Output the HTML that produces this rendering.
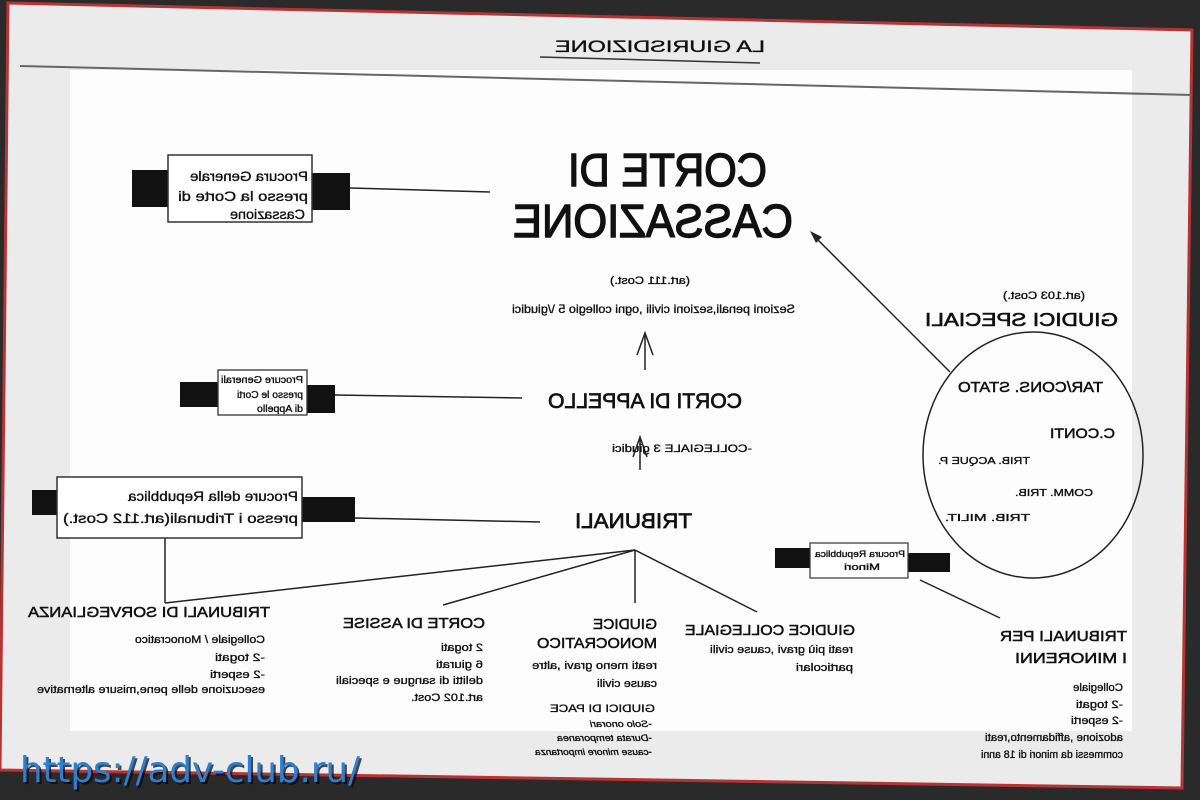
<!DOCTYPE html>
<html><head><meta charset="utf-8"><style>
html,body{margin:0;padding:0;background:#2a2a2a;}
svg{display:block}
text{font-family:"Liberation Sans",sans-serif;fill:#111;stroke:#111;stroke-width:0.35}
</style></head><body>
<svg width="1200" height="800" viewBox="0 0 1200 800" xmlns="http://www.w3.org/2000/svg">
<rect width="1200" height="800" fill="#2a2a2a"/>
<polygon points="8,3 1192,30 1182,788 0,770" fill="#ebebeb" stroke="#b83434" stroke-width="3"/>
<rect x="70" y="70" width="1062" height="661" fill="#fdfdfd"/>
<line x1="20" y1="66" x2="1192" y2="95" stroke="#666" stroke-width="2"/>

<!-- title -->
<text transform="translate(765,52) scale(-1,1)" font-size="17" textLength="210" lengthAdjust="spacingAndGlyphs">LA GIURISDIZIONE</text>
<line x1="540" y1="57" x2="760" y2="63" stroke="#333" stroke-width="1.5"/>

<g fill="none" stroke="#222" stroke-width="1.5">
<line x1="350" y1="188" x2="490" y2="192"/>
<line x1="335" y1="395" x2="522" y2="398"/>
<line x1="355" y1="518" x2="540" y2="522"/>
<line x1="165" y1="538" x2="165" y2="603"/>
<line x1="635" y1="550" x2="165" y2="603"/>
<line x1="635" y1="550" x2="443" y2="605"/>
<line x1="635" y1="550" x2="635" y2="603"/>
<line x1="635" y1="550" x2="757" y2="612"/>
<line x1="645" y1="370" x2="645" y2="333"/>
<path d="M637,355 L645,333 L653,355"/>
<line x1="640" y1="470" x2="640" y2="437"/>
<path d="M633,457 L640,437 L647,457"/>
<line x1="950" y1="372" x2="812" y2="234"/>
<line x1="920" y1="580" x2="1000" y2="618"/>
<ellipse cx="1033" cy="455" rx="110" ry="123"/>
</g>
<path d="M810,231 L822,237 L816,243 Z" fill="#222"/>

<rect x="132" y="170" width="38" height="37" fill="#111"/>
<rect x="310" y="173" width="40" height="37" fill="#111"/>
<rect x="168" y="155" width="144" height="67" fill="#fff" stroke="#333" stroke-width="1.5"/>
<text transform="translate(308,181) scale(-1,1)" font-size="14" textLength="118" lengthAdjust="spacingAndGlyphs">Procura Generale</text>
<text transform="translate(308,201) scale(-1,1)" font-size="14" textLength="130" lengthAdjust="spacingAndGlyphs">presso la Corte di</text>
<text transform="translate(305,219) scale(-1,1)" font-size="14" textLength="75" lengthAdjust="spacingAndGlyphs">Cassazione</text>

<rect x="180" y="382" width="38" height="25" fill="#111"/>
<rect x="305" y="385" width="30" height="28" fill="#111"/>
<rect x="218" y="370" width="89" height="45" fill="#fff" stroke="#333" stroke-width="1.3"/>
<text transform="translate(303,383) scale(-1,1)" font-size="10" textLength="82" lengthAdjust="spacingAndGlyphs">Procure Generali</text>
<text transform="translate(303,398) scale(-1,1)" font-size="10" textLength="66" lengthAdjust="spacingAndGlyphs">presso le Corti</text>
<text transform="translate(303,412) scale(-1,1)" font-size="10" textLength="46" lengthAdjust="spacingAndGlyphs">di Appello</text>

<rect x="32" y="490" width="28" height="25" fill="#111"/>
<rect x="302" y="497" width="53" height="25" fill="#111"/>
<rect x="57" y="477" width="245" height="61" fill="#fff" stroke="#333" stroke-width="1.5"/>
<text transform="translate(298,501) scale(-1,1)" font-size="14" textLength="170" lengthAdjust="spacingAndGlyphs">Procure della Repubblica</text>
<text transform="translate(298,523) scale(-1,1)" font-size="14" textLength="235" lengthAdjust="spacingAndGlyphs">presso i Tribunali(art.112 Cost.)</text>

<rect x="775" y="548" width="37" height="20" fill="#111"/>
<rect x="908" y="553" width="42" height="19" fill="#111"/>
<rect x="810" y="543" width="98" height="35" fill="#fff" stroke="#333" stroke-width="1.2"/>
<text transform="translate(905,557) scale(-1,1)" font-size="9" textLength="90" lengthAdjust="spacingAndGlyphs">Procura Repubblica</text>
<text transform="translate(880,570) scale(-1,1)" font-size="9" textLength="36" lengthAdjust="spacingAndGlyphs">Minori</text>

<text transform="translate(767,186) scale(-1,1)" font-size="46" style="stroke-width:1.4" textLength="199" lengthAdjust="spacingAndGlyphs">CORTE DI</text>
<text transform="translate(793,237) scale(-1,1)" font-size="46" style="stroke-width:1.4" textLength="280" lengthAdjust="spacingAndGlyphs">CASSAZIONE</text>
<text transform="translate(690,284) scale(-1,1)" font-size="11" textLength="80" lengthAdjust="spacingAndGlyphs">(art.111 Cost.)</text>
<text transform="translate(795,313) scale(-1,1)" font-size="12" textLength="283" lengthAdjust="spacingAndGlyphs">Sezioni penali,sezioni civili ,ogni collegio 5 \/giudici</text>
<text transform="translate(742,408) scale(-1,1)" font-size="21" style="stroke-width:0.7" textLength="194" lengthAdjust="spacingAndGlyphs">CORTI DI APPELLO</text>
<text transform="translate(752,452) scale(-1,1)" font-size="11" textLength="140" lengthAdjust="spacingAndGlyphs">-COLLEGIALE 3 giudici</text>
<text transform="translate(692,528) scale(-1,1)" font-size="21" style="stroke-width:0.7" textLength="117" lengthAdjust="spacingAndGlyphs">TRIBUNALI</text>

<text transform="translate(270,617) scale(-1,1)" font-size="15" style="stroke-width:0.5" textLength="242" lengthAdjust="spacingAndGlyphs">TRIBUNALI DI SORVEGLIANZA</text>
<text transform="translate(265,643) scale(-1,1)" font-size="11" textLength="130" lengthAdjust="spacingAndGlyphs">Collegiale / Monocratico</text>
<text transform="translate(265,661) scale(-1,1)" font-size="11" textLength="50" lengthAdjust="spacingAndGlyphs">-2 togati</text>
<text transform="translate(265,678) scale(-1,1)" font-size="11" textLength="55" lengthAdjust="spacingAndGlyphs">-2 esperti</text>
<text transform="translate(265,693) scale(-1,1)" font-size="11" textLength="228" lengthAdjust="spacingAndGlyphs">esecuzione delle pene,misure alternative</text>

<text transform="translate(485,628) scale(-1,1)" font-size="15" style="stroke-width:0.5" textLength="142" lengthAdjust="spacingAndGlyphs">CORTE DI ASSISE</text>
<text transform="translate(483,651) scale(-1,1)" font-size="11" textLength="42" lengthAdjust="spacingAndGlyphs">2 togati</text>
<text transform="translate(483,668) scale(-1,1)" font-size="11" textLength="47" lengthAdjust="spacingAndGlyphs">6 giurati</text>
<text transform="translate(483,684) scale(-1,1)" font-size="11" textLength="147" lengthAdjust="spacingAndGlyphs">delitti di sangue e speciali</text>
<text transform="translate(483,701) scale(-1,1)" font-size="11" textLength="72" lengthAdjust="spacingAndGlyphs">art.102 Cost.</text>

<text transform="translate(657,629) scale(-1,1)" font-size="15" style="stroke-width:0.5" textLength="64" lengthAdjust="spacingAndGlyphs">GIUDICE</text>
<text transform="translate(657,648) scale(-1,1)" font-size="15" style="stroke-width:0.5" textLength="120" lengthAdjust="spacingAndGlyphs">MONOCRATICO</text>
<text transform="translate(657,669) scale(-1,1)" font-size="11" textLength="125" lengthAdjust="spacingAndGlyphs">reati meno gravi ,altre</text>
<text transform="translate(657,687) scale(-1,1)" font-size="11" textLength="60" lengthAdjust="spacingAndGlyphs">cause civili</text>
<text transform="translate(655,712) scale(-1,1)" font-size="11" textLength="105" lengthAdjust="spacingAndGlyphs">GIUDICI DI PACE</text>
<text transform="translate(652,727) scale(-1,1)" font-size="9.5" font-style="italic" textLength="62" lengthAdjust="spacingAndGlyphs">-Solo onorari</text>
<text transform="translate(652,741) scale(-1,1)" font-size="9.5" font-style="italic" textLength="95" lengthAdjust="spacingAndGlyphs">-Durata temporanea</text>
<text transform="translate(652,755) scale(-1,1)" font-size="9.5" font-style="italic" textLength="117" lengthAdjust="spacingAndGlyphs">-cause minore importanza</text>

<text transform="translate(855,635) scale(-1,1)" font-size="15" style="stroke-width:0.5" textLength="170" lengthAdjust="spacingAndGlyphs">GIUDICE COLLEGIALE</text>
<text transform="translate(853,653) scale(-1,1)" font-size="11" textLength="143" lengthAdjust="spacingAndGlyphs">reati più gravi ,cause civili</text>
<text transform="translate(853,671) scale(-1,1)" font-size="11" textLength="57" lengthAdjust="spacingAndGlyphs">particolari</text>

<text transform="translate(1127,641) scale(-1,1)" font-size="15" style="stroke-width:0.5" textLength="127" lengthAdjust="spacingAndGlyphs">TRIBUNALI PER</text>
<text transform="translate(1127,663) scale(-1,1)" font-size="15" style="stroke-width:0.5" textLength="112" lengthAdjust="spacingAndGlyphs">I MINORENNI</text>
<text transform="translate(1123,691) scale(-1,1)" font-size="11" textLength="50" lengthAdjust="spacingAndGlyphs">Collegiale</text>
<text transform="translate(1123,708) scale(-1,1)" font-size="11" textLength="47" lengthAdjust="spacingAndGlyphs">-2 togati</text>
<text transform="translate(1123,724) scale(-1,1)" font-size="11" textLength="52" lengthAdjust="spacingAndGlyphs">-2 esperti</text>
<text transform="translate(1123,741) scale(-1,1)" font-size="11" textLength="138" lengthAdjust="spacingAndGlyphs">adozione ,affidamento,reati</text>
<text transform="translate(1123,758) scale(-1,1)" font-size="11" textLength="142" lengthAdjust="spacingAndGlyphs">commessi da minori di 18 anni</text>

<text transform="translate(1085,299) scale(-1,1)" font-size="11" textLength="82" lengthAdjust="spacingAndGlyphs">(art.103 Cost.)</text>
<text transform="translate(1118,326) scale(-1,1)" font-size="18" style="stroke-width:0.6" textLength="193" lengthAdjust="spacingAndGlyphs">GIUDICI SPECIALI</text>
<text transform="translate(1103,392) scale(-1,1)" font-size="15" style="stroke-width:0.5" textLength="145" lengthAdjust="spacingAndGlyphs">TAR/CONS. STATO</text>
<text transform="translate(1115,438) scale(-1,1)" font-size="14" style="stroke-width:0.5" textLength="65" lengthAdjust="spacingAndGlyphs">C.CONTI</text>
<text transform="translate(1030,464) scale(-1,1)" font-size="10" textLength="92" lengthAdjust="spacingAndGlyphs">TRIB. ACQUE P.</text>
<text transform="translate(1093,496) scale(-1,1)" font-size="10" textLength="78" lengthAdjust="spacingAndGlyphs">COMM. TRIB.</text>
<text transform="translate(1030,521) scale(-1,1)" font-size="10" textLength="85" lengthAdjust="spacingAndGlyphs">TRIB. MILIT.</text>

<text x="22" y="784" font-size="36" textLength="340" lengthAdjust="spacingAndGlyphs" style="font-family:'DejaVu Sans',sans-serif;fill:#000;stroke:none" opacity="0.7">https://adv-club.ru/</text>
<text x="20" y="782" font-size="36" textLength="340" lengthAdjust="spacingAndGlyphs" style="font-family:'DejaVu Sans',sans-serif;fill:#2f7fd0;stroke:none">https://adv-club.ru/</text>
</svg>
</body></html>
